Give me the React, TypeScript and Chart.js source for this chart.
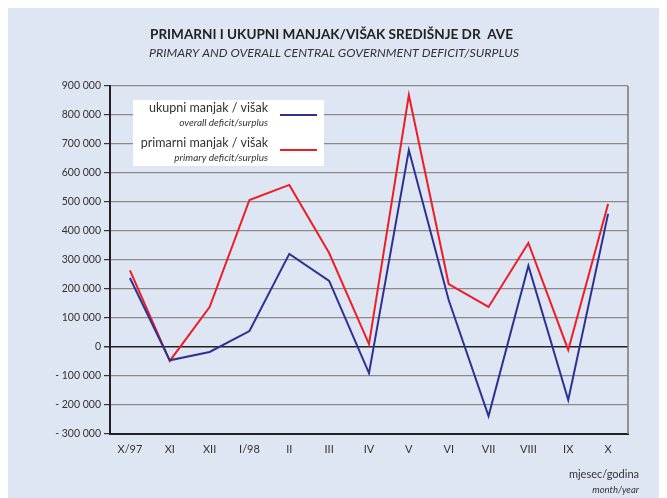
import React, { useEffect, useRef } from "react";
import { Chart, registerables } from "chart.js";

Chart.register(...registerables);

const categories = ["X/97", "XI", "XII", "I/98", "II", "III", "IV", "V", "VI", "VII", "VIII", "IX", "X"];
const overallDeficit = [238000, -46000, -17000, 55000, 321000, 228000, -90000, 679000, 162000, -238000, 280000, -183000, 459000];
const primaryDeficit = [264000, -48000, 138000, 507000, 559000, 324000, 10000, 869000, 217000, 138000, 359000, -10000, 493000];
const yMin = -300000;
const yMax = 900000;
const yStep = 100000;

const titleHr = "PRIMARNI I UKUPNI MANJAK/VIŠAK SREDIŠNJE DR  AVE";
const titleEn = "PRIMARY AND OVERALL CENTRAL GOVERNMENT DEFICIT/SURPLUS";
const legendHr = ["ukupni manjak / višak", "primarni manjak / višak"];
const legendEn = ["overall deficit/surplus", "primary deficit/surplus"];
const axisHr = "mjesec/godina";
const axisEn = "month/year";

const BLUE = "#2e3192";
const RED = "#ee1c25";
const BG = "#dfe6f3";
const FONT = "Lato, 'Open Sans', sans-serif";

function fmt(v: number): string {
  if (v === 0) return "0";
  const a = Math.abs(v);
  const th = Math.floor(a / 1000);
  const rest = String(a % 1000).padStart(3, "0");
  return (v < 0 ? "- " : "") + th + " " + rest;
}

function fitText(ctx: CanvasRenderingContext2D, text: string, x0: number, x1: number, y: number) {
  const w = ctx.measureText(text).width;
  const target = x1 - x0;
  ctx.save();
  ctx.translate(x0, y);
  ctx.scale(target / w, 1);
  ctx.textAlign = "left";
  ctx.fillText(text, 0, 0);
  ctx.restore();
}

const decorPlugin = {
  id: "decor",
  beforeDatasetsDraw(chart: any) {
    const ctx = chart.ctx as CanvasRenderingContext2D;
    const ca = chart.chartArea;
    ctx.save();
    ctx.strokeStyle = "#777";
    ctx.lineWidth = 1.5;
    ctx.beginPath();
    ctx.moveTo(ca.right, ca.top);
    ctx.lineTo(ca.right, ca.bottom);
    ctx.stroke();
    ctx.fillStyle = "#ffffff";
    ctx.fillRect(ca.left + 23, ca.top + 14, 191, 66);
    ctx.textBaseline = "middle";
    ctx.textAlign = "right";
    const tx = ca.left + 158;
    const rows = [
      { y: ca.top + 22, c: BLUE, ly: ca.top + 29 },
      { y: ca.top + 57, c: RED, ly: ca.top + 64 },
    ];
    rows.forEach((r, i) => {
      ctx.fillStyle = "#333";
      ctx.font = `12.5px ${FONT}`;
      ctx.fillText(legendHr[i], tx, r.y);
      ctx.font = `italic 10px ${FONT}`;
      ctx.fillText(legendEn[i], tx, r.y + 15);
      ctx.strokeStyle = r.c;
      ctx.lineWidth = 2;
      ctx.beginPath();
      ctx.moveTo(ca.left + 170, r.ly);
      ctx.lineTo(ca.left + 207, r.ly);
      ctx.stroke();
    });
    ctx.restore();
  },
  afterDraw(chart: any) {
    const ctx = chart.ctx as CanvasRenderingContext2D;
    ctx.save();
    ctx.fillStyle = "#222";
    ctx.textBaseline = "middle";
    ctx.font = `bold 13px ${FONT}`;
    fitText(ctx, titleHr, 142, 505, 27);
    ctx.fillStyle = "#333";
    ctx.font = `italic 12px ${FONT}`;
    fitText(ctx, titleEn, 141, 511, 45);
    ctx.textAlign = "right";
    ctx.fillStyle = "#333";
    ctx.font = `11px ${FONT}`;
    ctx.fillText(axisHr, 631, 466);
    ctx.font = `italic 9.5px ${FONT}`;
    ctx.fillText(axisEn, 631, 482);
    ctx.restore();
  },
};

export default function App() {
  const ref = useRef<HTMLCanvasElement | null>(null);
  useEffect(() => {
    if (!ref.current) return;
    const chart = new Chart(ref.current, {
      type: "line",
      data: {
        labels: categories,
        datasets: [
          { label: "overall", data: overallDeficit, borderColor: BLUE, borderWidth: 2, pointRadius: 0, tension: 0, fill: false },
          { label: "primary", data: primaryDeficit, borderColor: RED, borderWidth: 2, pointRadius: 0, tension: 0, fill: false },
        ],
      },
      options: {
        animation: false,
        responsive: false,
        layout: { padding: { top: 78, right: 39, left: 0, bottom: 0 } },
        plugins: { legend: { display: false }, tooltip: { enabled: false }, title: { display: false } },
        scales: {
          x: {
            type: "category",
            offset: true,
            grid: { display: false, drawOnChartArea: false, drawTicks: false },
            border: { display: true, color: "#222", width: 2 },
            ticks: { color: "#333", font: { family: FONT, size: 11 }, padding: 9, maxRotation: 0, autoSkip: false },
            afterFit: (s: any) => { s.height = 64; },
          },
          y: {
            min: yMin,
            max: yMax,
            grid: {
              color: (c: any) => (c.tick && c.tick.value === 0 ? "#222" : "#8a8a8a"),
              lineWidth: (c: any) => (c.tick && c.tick.value === 0 ? 1.5 : 1.2),
              tickColor: "#333",
              tickLength: 6,
            },
            border: { display: true, color: "#222", width: 2 },
            ticks: {
              stepSize: yStep,
              color: "#333",
              font: { family: FONT, size: 10.5 },
              padding: 3,
              callback: (v: any) => fmt(Number(v)),
            },
            afterFit: (s: any) => { s.width = 102; },
          },
        },
      },
      plugins: [decorPlugin],
    });
    return () => chart.destroy();
  }, []);
  return (
    <div style={{ width: 659, height: 490, background: BG }}>
      <canvas ref={ref} width={659} height={490} style={{ display: "block" }} />
    </div>
  );
}
